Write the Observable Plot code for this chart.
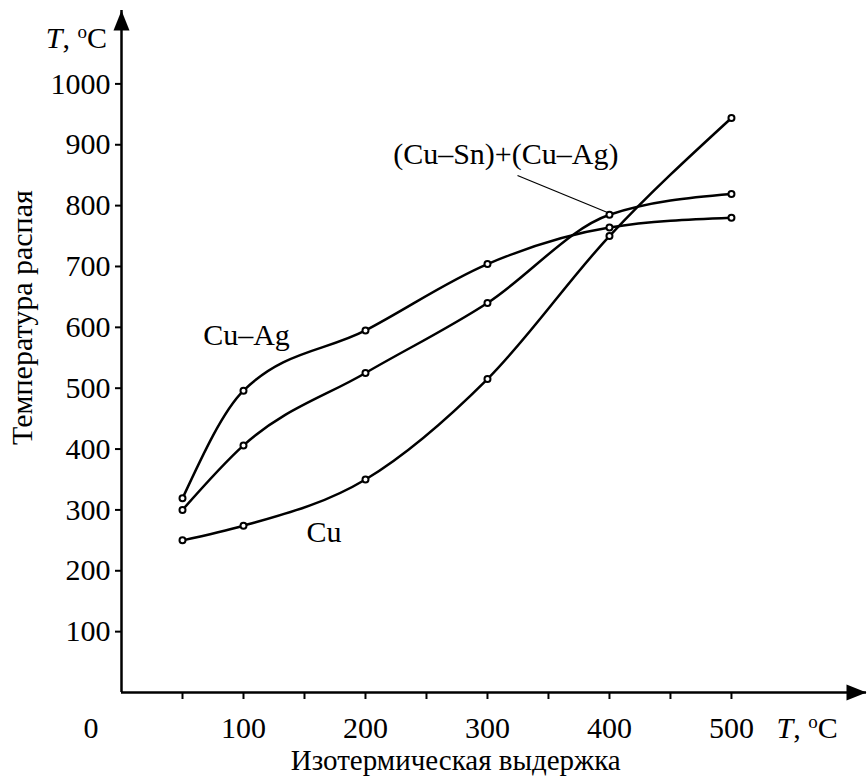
<!DOCTYPE html>
<html>
<head>
<meta charset="utf-8">
<script src="https://cdn.jsdelivr.net/npm/d3@7"></script>
<script src="https://cdn.jsdelivr.net/npm/@observablehq/plot@0.6"></script>
<style>
  html, body { margin: 0; padding: 0; background: #fff; }
  svg text { font-family: "Liberation Serif", "Tinos", "Times New Roman", Times, "DejaVu Serif", serif !important; }
</style>
</head>
<body>
<div id="chart"></div>
<script>
// ---- data ----
const hold = [50, 100, 200, 300, 400, 500];           // isothermal hold, °C
const cu = [250, 274, 350, 515, 750, 944];
const cuAg = [319, 496, 595, 704, 764, 780];
const cuSnAg = [300, 406, 525, 640, 785, 819];
const seriesNames = ["Cu", "Cu–Ag", "(Cu–Sn)+(Cu–Ag)"];
const yTicks = [100, 200, 300, 400, 500, 600, 700, 800, 900, 1000];
const xTicks = [50, 100, 150, 200, 250, 300, 350, 400, 450, 500];
const xTitle = "Изотермическая выдержка";
const yTitle = "Температура распая";
const unitLabel = "T, ºC";

// table built from arrays
const rows = [];
[cu, cuAg, cuSnAg].forEach((vals, i) =>
  vals.forEach((v, j) => rows.push({series: seriesNames[i], x: hold[j], y: v}))
);

// annotation placement (data coordinates)
const xMax = 610.7, yMax = 1120.6;
const notes = [
  {x: 102.5, y: 587, text: "Cu–Ag"},
  {x: 166, y: 263, text: "Cu"},
  {x: 315, y: 884, text: "(Cu–Sn)+(Cu–Ag)"},
  {x: -25, y: -58.7, text: "0"},
  {x: 562, y: -58.7, text: unitLabel},
  {x: -37, y: 1075, text: unitLabel}
];

const arrowHead = {
  draw(ctx) {
    ctx.moveTo(0, 0);
    ctx.lineTo(-8, 20);
    ctx.lineTo(8, 20);
    ctx.closePath();
  }
};

const FONT = 30;
const FAMILY = "'Liberation Serif', Tinos, 'Times New Roman', 'DejaVu Serif', serif";
const plot = Plot.plot({
  width: 867,
  height: 776,
  marginLeft: 121,
  marginRight: 1,
  marginTop: 10,
  marginBottom: 84,
  style: {fontFamily: FAMILY, fontSize: FONT + "px", color: "#000", background: "#fff"},
  x: {domain: [0, xMax]},
  y: {domain: [0, yMax]},
  marks: [
    Plot.axisY({ticks: yTicks, tickSize: 6, tickPadding: 5, strokeWidth: 2, label: null, fontSize: FONT,
      tickFormat: d => String(d)}),
    Plot.axisX({ticks: xTicks, tickSize: 7, tickPadding: 17, strokeWidth: 2, label: null, fontSize: FONT,
      tickFormat: d => (d % 100 === 0 ? String(d) : "")}),
    Plot.ruleX([0], {strokeWidth: 2.5}),
    Plot.ruleY([0], {strokeWidth: 2.5}),
    Plot.dot([{x: 0, y: yMax}], {x: "x", y: "y", symbol: arrowHead, fill: "#000", stroke: "none"}),
    Plot.dot([{x: xMax, y: 0}], {x: "x", y: "y", symbol: arrowHead, fill: "#000", stroke: "none", rotate: 90}),
    Plot.line(rows, {x: "x", y: "y", z: "series", curve: "monotone-x", stroke: "#000", strokeWidth: 2.5}),
    Plot.dot(rows, {x: "x", y: "y", r: 3, fill: "#fff", stroke: "#000", strokeWidth: 2}),
    Plot.link([{x1: 324.6, y1: 849.5, x2: 398.4, y2: 788.7}], {x1: "x1", y1: "y1", x2: "x2", y2: "y2", stroke: "#000", strokeWidth: 1.3}),
    Plot.text(notes, {x: "x", y: "y", text: "text", fontSize: FONT, fill: "#000", textAnchor: "middle", lineAnchor: "middle"}),
    Plot.text([{x: 274, y: -112.9}], {x: "x", y: "y", text: () => xTitle, fontSize: 29, fill: "#000", textAnchor: "middle", lineAnchor: "middle"}),
    Plot.text([{x: -81, y: 616}], {x: "x", y: "y", text: () => yTitle, rotate: -90, fontSize: FONT, fill: "#000", textAnchor: "middle", lineAnchor: "middle"})
  ]
});

// italic T and superscript o in the unit labels
d3.select(plot).selectAll("text").filter(function () {
  return this.childElementCount === 0 && this.textContent === unitLabel;
}).each(function () {
  const t = d3.select(this);
  t.text("");
  t.append("tspan").attr("font-style", "italic").text("T");
  t.append("tspan").text(", ");
  t.append("tspan").attr("font-size", "19px").attr("dy", "-10").text("o");
  t.append("tspan").attr("dy", "10").text("C");
});

document.getElementById("chart").appendChild(plot);
</script>
</body>
</html>
